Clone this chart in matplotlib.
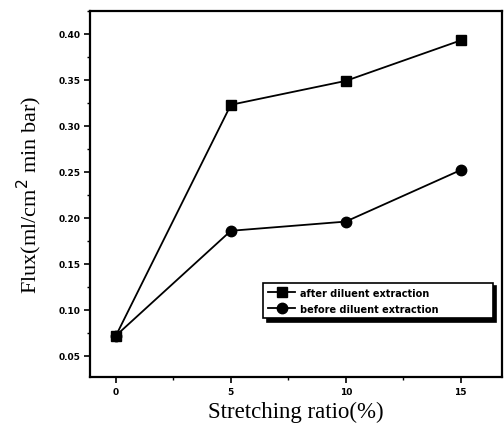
import numpy as np
import matplotlib.pyplot as plt
from matplotlib.ticker import MultipleLocator

# data
stretch = [0, 5, 10, 15]
flux_after = [0.072, 0.323, 0.349, 0.393]
flux_before = [0.072, 0.186, 0.196, 0.252]
yticks = [0.05, 0.10, 0.15, 0.20, 0.25, 0.30, 0.35, 0.40]
xticks = [0, 5, 10, 15]

fig = plt.figure(figsize=(5.04, 4.35), dpi=100)
ax = fig.add_axes([90 / 504, 1 - 378 / 435, 412 / 504, 366 / 435])

ax.plot(stretch, flux_after, color='black', lw=1.3, marker='s', ms=7,
        label='after diluent extraction')
ax.plot(stretch, flux_before, color='black', lw=1.3, marker='o', ms=7.5,
        label='before diluent extraction')

ax.set_xlim(-1.13, 16.8)
ax.set_ylim(0.027, 0.425)
ax.set_xticks(xticks)
ax.set_yticks(yticks)
ax.set_yticklabels([f"{v:.2f}" for v in yticks])
ax.xaxis.set_minor_locator(MultipleLocator(2.5))
ax.yaxis.set_minor_locator(MultipleLocator(0.025))
ax.tick_params(which='major', direction='out', length=4, width=1.2,
               labelsize=6.5, pad=3)
ax.tick_params(which='minor', direction='out', length=2.5, width=1)
for lab in ax.get_xticklabels() + ax.get_yticklabels():
    lab.set_fontweight('bold')
for s in ax.spines.values():
    s.set_linewidth(1.6)

ax.set_xlabel('Stretching ratio(%)', family='Liberation Serif', fontsize=16.5,
              labelpad=4)
ax.set_ylabel('Flux(ml/cm$^{2}$ min bar)', family='Liberation Serif',
              fontsize=16, labelpad=10)

# legend box stretched to the width seen in the picture
leg = ax.legend(loc='upper left', mode='expand',
                bbox_to_anchor=(0.42, 0.137, 0.558, 0.12),
                prop={'weight': 'bold', 'size': 7}, frameon=True,
                fancybox=False, edgecolor='black',
                shadow={'color': 'black', 'alpha': 1, 'ox': 2.5, 'oy': -2.5},
                handlelength=2.8, handletextpad=0.5, borderpad=0.5,
                labelspacing=0.6, borderaxespad=0)
leg.get_frame().set_linewidth(1.2)

fig.savefig('out.png', dpi=100)
